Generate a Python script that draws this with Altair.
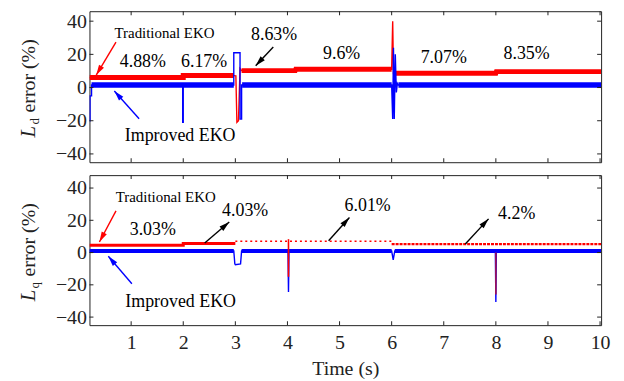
import math
import altair as alt
import pandas as pd

FONT = "Liberation Serif"
RED = "#ff0000"
BLUE = "#0000ff"
PURPLE = "#a3124f"

# ---------------- data ----------------
# Top panel: Ld error (%) -- full traces (drawn thin, show the transients)
ld_trad_t = [0.2, 2.0, 2.0, 2.97, 3.01, 3.03, 3.06, 3.09, 3.12, 4.15, 4.16, 6.0, 6.02, 6.035, 6.05, 8.0, 8.01, 10.02]
ld_trad_v = [6.0, 6.0, 7.2, 7.2, 7.0, -21.0, -20.0, 11.5, 10.2, 10.2, 11.0, 11.0, 40.0, 8.5, 8.6, 8.6, 9.6, 9.6]

ld_impr_t = [0.2, 0.21, 0.21, 0.24, 0.24, 1.99, 1.99, 2.0, 2.0, 2.97, 2.97, 3.09, 3.09, 3.12, 3.12,
             6.0, 6.02, 6.035, 6.05, 6.07, 6.09, 6.11, 6.13, 10.02]
ld_impr_v = [-20.0, -20.0, -5.0, -5.0, 1.5, 1.5, -21.0, -21.0, 1.5, 1.5, 21.0, 21.0, -19.0, -19.0, 1.5,
             1.5, -19.0, 24.0, -19.0, 20.0, -3.0, 2.5, 1.5, 1.5]

# Top panel: steady (noisy, thick) parts of each trace
ld_trad_band_t = [0.2, 2.0, 2.0, 2.97, 3.12, 4.15, 4.16, 6.0, 6.05, 8.0, 8.01, 10.02]
ld_trad_band_v = [6.0, 6.0, 7.2, 7.2, 10.2, 10.2, 11.0, 11.0, 8.6, 8.6, 9.6, 9.6]
ld_trad_band_seg = [0, 0, 0, 0, 1, 1, 1, 1, 2, 2, 2, 2]

ld_impr_band_t = [0.24, 2.97, 3.13, 6.0, 6.13, 10.02]
ld_impr_band_v = [1.5, 1.5, 1.5, 1.5, 1.5, 1.5]
ld_impr_band_seg = [0, 0, 1, 1, 2, 2]

# Bottom panel: Lq error (%)
lq_trad_t = [0.2, 2.0, 2.0, 3.0]
lq_trad_v = [4.5, 4.5, 5.6, 5.6]
lq_trad_mid_t = [3.0, 6.0]
lq_trad_mid_v = [7.0, 7.0]
lq_trad_end_t = [6.0, 10.02]
lq_trad_end_v = [5.2, 5.2]

lq_impr_t = [0.2, 2.97, 2.99, 3.0, 3.1, 3.12, 4.01, 4.02, 4.03, 6.0, 6.03, 6.06, 7.99, 8.0, 8.01, 10.02]
lq_impr_v = [1.0, 1.0, -7.0, -7.5, -7.0, 1.0, 1.0, -24.5, 1.0, 1.0, -4.6, 1.0, 1.0, -30.7, 1.0, 1.0]

lq_impr_band_t = [0.2, 2.97, 3.12, 6.0, 6.06, 10.02]
lq_impr_band_v = [1.0, 1.0, 1.0, 1.0, 1.0, 1.0]
lq_impr_band_seg = [0, 0, 1, 1, 2, 2]

lq_spike_t = [4.02, 8.0]
lq_spike_top = [8.3, 0.0]
lq_spike_bottom = [-15.0, -26.0]
lq_spike_color = [RED, PURPLE]

# annotations (time, value) for each panel
top_labels = ["Traditional EKO", "4.88%", "6.17%", "8.63%", "9.6%", "7.07%", "8.35%", "Improved EKO"]
top_label_t = [1.64, 1.224, 2.40, 3.743, 5.04, 7.0, 8.59, 1.94]
top_label_v = [32.8, 15.5, 15.5, 31.8, 20.4, 17.9, 20.4, -29.4]
top_label_size = [15, 18, 18, 18, 18, 18, 18, 18]

top_arrow_t1 = [0.709, 1.153, 3.728]
top_arrow_v1 = [27.4, -18.8, 24.4]
top_arrow_t2 = [0.33, 0.677, 3.39]
top_arrow_v2 = [7.5, -2.1, 13.1]
top_arrow_c = [RED, BLUE, "#000000"]

bot_labels = ["Traditional EKO", "3.03%", "4.03%", "6.01%", "4.2%", "Improved EKO"]
bot_label_t = [1.663, 1.415, 3.188, 5.539, 8.40, 1.95]
bot_label_v = [34.3, 13.7, 25.8, 29.1, 24.0, -30.4]
bot_label_size = [15, 18, 18, 18, 18, 18]

bot_arrow_t1 = [0.709, 2.412, 4.79, 7.414, 1.014]
bot_arrow_v1 = [25.8, 5.9, 7.35, 5.3, -19.3]
bot_arrow_t2 = [0.391, 2.883, 5.19, 7.86, 0.562]
bot_arrow_v2 = [6.55, 18.9, 21.7, 20.9, -2.3]
bot_arrow_c = [RED, "#000000", "#000000", "#000000", BLUE]

x_ticks = [1, 2, 3, 4, 5, 6, 7, 8, 9, 10]
y_ticks = [-40, -20, 0, 20, 40]

# ---------------- layout ----------------
W = 515
H1, H2 = 152, 151
X_DOM = [0.2, 10.02]
Y1_DOM = [-45, 46]
Y2_DOM = [-45, 48]

HEAD = "M 0 0 L 0.42 1.5 L -0.42 1.5 Z"


def make_panel(H, ydom, show_x, series, spikes, labels, arrows, sub):
    xscale = alt.Scale(domain=X_DOM, nice=False, zero=False)
    yscale = alt.Scale(domain=ydom, nice=False, zero=False)
    if show_x:
        xaxis = alt.Axis(values=x_ticks, ticks=False, domain=False, grid=False,
                         labelFontSize=20, labelPadding=8, title="Time (s)",
                         titleFontSize=20, titleFontWeight="normal", titlePadding=6,
                         labelColor="#222", titleColor="#222", labelFont=FONT, titleFont=FONT)
    else:
        xaxis = None
    yaxis = alt.Axis(values=y_ticks, ticks=False, domain=False, grid=False, labelFontSize=20,
                     labelPadding=3, title=None, labelColor="#222", labelFont=FONT)

    def X(f):
        return alt.X(f, type="quantitative", scale=xscale, axis=xaxis)

    def Y(f):
        return alt.Y(f, type="quantitative", scale=yscale, axis=yaxis)

    layers = []
    for s in series:
        t, v, seg, color, width, dash = s
        if seg is None:
            seg = [0] * len(t)
        df = pd.DataFrame({"t": t, "v": v, "seg": seg, "i": list(range(len(t)))})
        kw = dict(color=color, strokeWidth=width, clip=True)
        if dash:
            kw["strokeDash"] = dash
        layers.append(alt.Chart(df).mark_line(**kw).encode(
            x=X("t"), y=Y("v"), detail="seg:N", order="i:Q"))

    if spikes is not None:
        st, stop, sbot, sc = spikes
        df = pd.DataFrame({"t": st, "top": stop, "bot": sbot, "c": sc})
        layers.append(alt.Chart(df).mark_rule(strokeWidth=1.6).encode(
            x=X("t"), y=Y("top"), y2="bot:Q", color=alt.Color("c:N", scale=None)))

    lt, lv, ls, lsz = labels
    df = pd.DataFrame({"t": lt, "v": lv, "s": ls, "z": lsz})
    layers.append(alt.Chart(df).mark_text(font=FONT, color="#000", baseline="middle", align="center").encode(
        x=X("t"), y=Y("v"), text="s:N", size=alt.Size("z:Q", scale=None)))

    t1, v1, t2, v2, ac = arrows
    xs = W / (X_DOM[1] - X_DOM[0])
    ys = H / (ydom[1] - ydom[0])
    ang = []
    for a, b, c, d in zip(t1, v1, t2, v2):
        dx = (c - a) * xs
        dy = -(d - b) * ys
        ang.append(math.degrees(math.atan2(dx, -dy)) % 360)
    df = pd.DataFrame({"t1": t1, "v1": v1, "t2": t2, "v2": v2, "c": ac, "a": ang})
    layers.append(alt.Chart(df).mark_rule(strokeWidth=1.4).encode(
        x=X("t1"), y=Y("v1"), x2="t2:Q", y2="v2:Q", color=alt.Color("c:N", scale=None)))
    layers.append(alt.Chart(df).mark_point(shape=HEAD, filled=True, opacity=1, size=190, strokeWidth=0).encode(
        x=X("t2"), y=Y("v2"), angle=alt.Angle("a:Q", scale=None), color=alt.Color("c:N", scale=None)))

    # inward ticks on all four sides
    dfx = pd.DataFrame({"t": x_ticks})
    dfy = pd.DataFrame({"v": y_ticks})
    for yy in (2, H - 2):
        layers.append(alt.Chart(dfx).mark_tick(size=4, thickness=1, color="#222", opacity=1).encode(
            x=X("t"), y=alt.value(yy)))
    for xx in (2, W - 2):
        layers.append(alt.Chart(dfy).mark_tick(size=4, thickness=1, color="#222", opacity=1).encode(
            y=Y("v"), x=alt.value(xx)))

    # y title with subscript
    one = pd.DataFrame({"k": [0]})
    layers.append(alt.Chart(one).mark_text(text="L", font=FONT, fontSize=21, fontStyle="italic", angle=270,
                                           align="left", baseline="alphabetic", color="#222").encode(
        x=alt.value(-55), y=alt.value(127)))
    layers.append(alt.Chart(one).mark_text(text=sub, font=FONT, fontSize=13, angle=270,
                                           align="left", baseline="alphabetic", color="#222").encode(
        x=alt.value(-51), y=alt.value(114)))
    layers.append(alt.Chart(one).mark_text(text="error (%)", font=FONT, fontSize=20, angle=270,
                                           align="left", baseline="alphabetic", color="#222").encode(
        x=alt.value(-55), y=alt.value(102)))

    return alt.layer(*layers).properties(width=W, height=H)


top = make_panel(
    H1, Y1_DOM, False,
    [(ld_trad_t, ld_trad_v, None, RED, 1.4, None),
     (ld_trad_band_t, ld_trad_band_v, ld_trad_band_seg, RED, 5, None),
     (ld_impr_t, ld_impr_v, None, BLUE, 1.4, None),
     (ld_impr_band_t, ld_impr_band_v, ld_impr_band_seg, BLUE, 5.5, None)],
    None,
    (top_label_t, top_label_v, top_labels, top_label_size),
    (top_arrow_t1, top_arrow_v1, top_arrow_t2, top_arrow_v2, top_arrow_c),
    "d",
)

bottom = make_panel(
    H2, Y2_DOM, True,
    [(lq_trad_t, lq_trad_v, None, RED, 3, None),
     (lq_trad_mid_t, lq_trad_mid_v, None, RED, 1.5, [2, 3]),
     (lq_trad_end_t, lq_trad_end_v, None, RED, 2.2, [3, 1]),
     (lq_impr_t, lq_impr_v, None, BLUE, 1.4, None),
     (lq_impr_band_t, lq_impr_band_v, lq_impr_band_seg, BLUE, 4, None)],
    (lq_spike_t, lq_spike_top, lq_spike_bottom, lq_spike_color),
    (bot_label_t, bot_label_v, bot_labels, bot_label_size),
    (bot_arrow_t1, bot_arrow_v1, bot_arrow_t2, bot_arrow_v2, bot_arrow_c),
    "q",
)

chart = alt.vconcat(top, bottom, spacing=9).properties(
    padding={"left": 9, "top": 1, "right": 5, "bottom": 2},
    background="white",
).configure_view(stroke="#222", strokeWidth=1)

chart.save("out.html", embed_options={"renderer": "svg", "actions": False})
